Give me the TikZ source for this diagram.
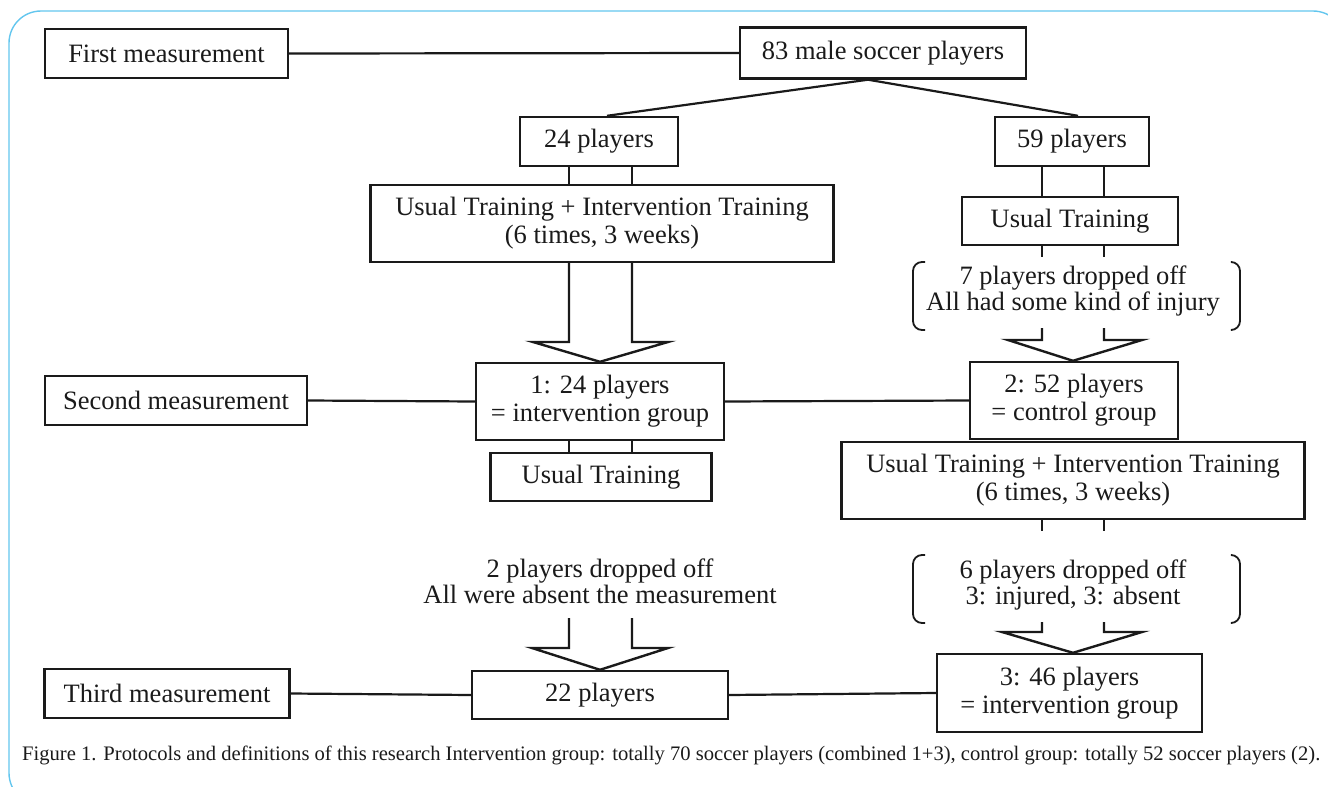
\documentclass[tikz,border=0pt]{standalone}
\usepackage{fontspec}
\setmainfont{Liberation Serif}
\definecolor{frameblue}{HTML}{63C6EE}
\definecolor{ink}{HTML}{1A1A1A}
\begin{document}
\begin{tikzpicture}[x=1pt,y=-1pt,
  box/.style={draw=ink, line width=2.4pt, inner sep=0pt, align=center, text=ink,
    font=\fontsize{26.5}{28}\selectfont},
  lbl/.style={inner sep=0pt, align=center, text=ink, font=\fontsize{26.5}{26}\selectfont},
  conn/.style={draw=ink, line width=2.2pt},
  fat/.style={draw=ink, line width=2.4pt, line join=miter},
  brk/.style={draw=ink, line width=1.8pt, rounded corners=9pt}]
\useasboundingbox (0,0) rectangle (1328,787);
% outer frame
\draw[frameblue, line width=1.4pt, rounded corners=32pt] (9,11) rectangle (1345,805);

% nodes
\node[box, minimum width=243pt, minimum height=49pt] (fm) at (166.5,53.5) {First measurement};
\node[box, minimum width=286pt, minimum height=51pt] (m83) at (883,53) {83 male soccer players};
\node[box, minimum width=158pt, minimum height=49pt] (p24) at (599,141.5) {24 players};
\node[box, minimum width=154pt, minimum height=49pt] (p59) at (1072,141.5) {59 players};
\node[box, minimum width=463pt, minimum height=77pt] (uti1) at (602,223.5) {Usual Training + Intervention Training\\(6 times, 3 weeks)};
\node[box, minimum width=216pt, minimum height=48pt] (ut1) at (1070,221) {Usual Training};
\node[lbl] (d7) at (1073,291.5) {7 players dropped off\\All had some kind of injury};
\node[box, minimum width=262pt, minimum height=49pt] (m2) at (176,400.5) {Second measurement};
\node[box, minimum width=248pt, minimum height=77pt] (g1) at (600,401.5) {1: 24 players\\= intervention group};
\node[box, minimum width=208pt, minimum height=77pt] (g2) at (1074,400.5) {2: 52 players\\= control group};
\node[box, minimum width=221pt, minimum height=48pt] (ut2) at (601,477) {Usual Training};
\node[box, minimum width=463pt, minimum height=77pt] (uti2) at (1073,480.5) {Usual Training + Intervention Training\\(6 times, 3 weeks)};
\node[lbl] (d2) at (600,581.5) {2 players dropped off\\All were absent the measurement};
\node[lbl] (d6) at (1073,584.5) {6 players dropped off\\3: injured, 3: absent};
\node[box, minimum width=245pt, minimum height=49pt] (m3) at (167,693.5) {Third measurement};
\node[box, minimum width=256pt, minimum height=48pt] (p22) at (600,695) {22 players};
\node[box, minimum width=265pt, minimum height=78pt] (g3) at (1069.5,693) {3: 46 players\\= intervention group};

% caption
\node[inner sep=0pt, text=ink, anchor=west] (cap) at (22,755)
  {\resizebox{1298pt}{!}{\fontsize{20}{22}\selectfont Figure 1. Protocols and definitions of this research Intervention group: totally 70 soccer players (combined 1+3), control group: totally 52 soccer players (2).}};

% horizontal measurement lines
\draw[conn] (fm.east) -- (m83.west);
\draw[conn] (m2.east) -- (g1.west);
\draw[conn] (g1.east) -- (g2.west);
\draw[conn] (m3.east) -- (p22.west);
\draw[conn] (p22.east) -- (g3.west);

% split lines
\coordinate (split) at (m83.south -| 868,0);
\draw[conn] (split) -- (p24.north -| 607,0);
\draw[conn] (split) -- (p59.north -| 1078,0);

% double stubs
\draw[conn] (p24.south -| 569,0) -- (uti1.north -| 569,0);
\draw[conn] (p24.south -| 632,0) -- (uti1.north -| 632,0);
\draw[conn] (p59.south -| 1042,0) -- (ut1.north -| 1042,0);
\draw[conn] (p59.south -| 1104,0) -- (ut1.north -| 1104,0);
\draw[conn] (g1.south -| 569,0) -- (ut2.north -| 569,0);
\draw[conn] (g1.south -| 632,0) -- (ut2.north -| 632,0);
\draw[conn] (ut1.south -| 1042,0) -- (1042,257);
\draw[conn] (ut1.south -| 1104,0) -- (1104,257);
\draw[conn] (uti2.south -| 1042,0) -- (1042,531);
\draw[conn] (uti2.south -| 1104,0) -- (1104,531);

% fat arrows
\draw[fat] (uti1.south -| 569,0) -- (569,342) -- (533,342) -- (g1.north -| 600,0) -- (668,342) -- (632,342) -- (uti1.south -| 632,0);
\draw[fat] (1042,328) -- (1042,340) -- (1008,340) -- (g2.north -| 1073,0) -- (1142,340) -- (1104,340) -- (1104,328);
\draw[fat] (569,618) -- (569,648) -- (532,648) -- (p22.north -| 600,0) -- (668,648) -- (632,648) -- (632,618);
\draw[fat] (1042,622) -- (1042,632) -- (1002,632) -- (g3.north -| 1073,0) -- (1142,632) -- (1104,632) -- (1104,622);

% brackets
\draw[brk] (925,262) -- (913,262) -- (913,330) -- (925,330);
\draw[brk] (1232,262) -- (1240,262) -- (1240,330) -- (1232,330);
\draw[brk] (925,555) -- (913,555) -- (913,623) -- (925,623);
\draw[brk] (1232,555) -- (1240,555) -- (1240,623) -- (1232,623);
\end{tikzpicture}
\end{document}
